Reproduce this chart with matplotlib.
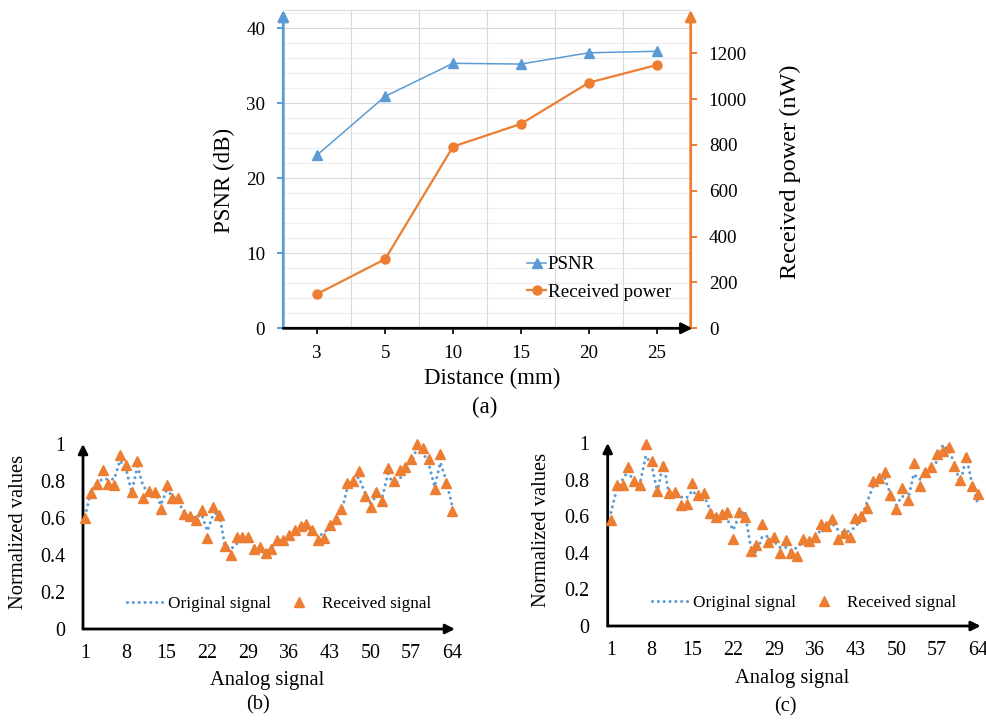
import matplotlib
matplotlib.use("Agg")
import matplotlib.pyplot as plt
from matplotlib.lines import Line2D

plt.rcParams['font.family'] = ['Liberation Serif', 'DejaVu Serif']

# ---- data ----
distances = ['3', '5', '10', '15', '20', '25']
psnr = [23.1, 30.9, 35.3, 35.2, 36.7, 36.9]
rx_power = [150, 302, 793, 892, 1072, 1149]

sample_idx = list(range(1, 65))
sample_ticks = [1, 8, 15, 22, 29, 36, 43, 50, 57, 64]
norm_ticks = [0, 0.2, 0.4, 0.6, 0.8, 1.0]
norm_tick_labels = ['0', '0.2', '0.4', '0.6', '0.8', '1']

b_original = [0.61, 0.74, 0.79, 0.81, 0.81, 0.81, 0.91, 0.87, 0.74, 0.88,
              0.77, 0.74, 0.74, 0.67, 0.75, 0.72, 0.69, 0.63, 0.61, 0.60,
              0.62, 0.53, 0.62, 0.63, 0.45, 0.43, 0.46, 0.49, 0.49, 0.45,
              0.425, 0.41, 0.44, 0.48, 0.48, 0.49, 0.533, 0.555, 0.57, 0.53,
              0.50, 0.52, 0.55, 0.59, 0.63, 0.76, 0.80, 0.82, 0.74, 0.68,
              0.72, 0.71, 0.84, 0.776, 0.81, 0.865, 0.90, 0.98, 0.955, 0.89,
              0.77, 0.90, 0.80, 0.668]
b_received = [0.60, 0.736, 0.785, 0.86, 0.785, 0.78, 0.94, 0.887, 0.738, 0.91,
              0.707, 0.747, 0.743, 0.65, 0.78, 0.71, 0.71, 0.623, 0.612, 0.59,
              0.645, 0.49, 0.66, 0.618, 0.447, 0.40, 0.497, 0.497, 0.497, 0.43,
              0.443, 0.41, 0.434, 0.48, 0.48, 0.506, 0.537, 0.555, 0.567, 0.533,
              0.483, 0.494, 0.56, 0.596, 0.646, 0.79, 0.80, 0.853, 0.72, 0.66,
              0.743, 0.69, 0.87, 0.80, 0.86, 0.874, 0.917, 1.0, 0.98, 0.917,
              0.758, 0.946, 0.788, 0.64]

c_original = [0.62, 0.746, 0.80, 0.85, 0.775, 0.78, 0.93, 0.88, 0.73, 0.90,
              0.71, 0.73, 0.705, 0.70, 0.74, 0.70, 0.71, 0.64, 0.59, 0.60,
              0.58, 0.525, 0.60, 0.63, 0.43, 0.40, 0.49, 0.49, 0.46, 0.43,
              0.43, 0.41, 0.43, 0.46, 0.47, 0.49, 0.52, 0.54, 0.56, 0.525,
              0.51, 0.52, 0.54, 0.59, 0.68, 0.76, 0.81, 0.81, 0.72, 0.66,
              0.71, 0.69, 0.83, 0.80, 0.83, 0.86, 0.90, 0.99, 0.96, 0.89,
              0.77, 0.93, 0.78, 0.67]
c_received = [0.58, 0.77, 0.77, 0.87, 0.79, 0.77, 0.996, 0.90, 0.737, 0.877,
              0.728, 0.734, 0.66, 0.668, 0.78, 0.716, 0.728, 0.62, 0.596, 0.61,
              0.625, 0.478, 0.625, 0.598, 0.408, 0.442, 0.556, 0.46, 0.487, 0.40,
              0.47, 0.397, 0.382, 0.473, 0.462, 0.487, 0.556, 0.547, 0.587, 0.475,
              0.51, 0.487, 0.59, 0.60, 0.647, 0.795, 0.81, 0.844, 0.714, 0.641,
              0.755, 0.687, 0.891, 0.766, 0.844, 0.868, 0.94, 0.958, 0.978, 0.873,
              0.797, 0.926, 0.763, 0.72]

BLUE = '#5B9BD5'
ORANGE = '#ED7D31'
W, H = 987, 721
DOTS = (0, (0.01, 1.9))


def fx(x):
    return x / W


def fy(y):
    return 1 - y / H


def arrow(ax, start, end, color, lw=1.6, ms=14):
    ax.annotate('', xy=end, xytext=start, xycoords='axes fraction',
                textcoords='axes fraction', annotation_clip=False,
                arrowprops=dict(arrowstyle='-|>', color=color, lw=lw,
                                mutation_scale=ms, shrinkA=0, shrinkB=0))


fig = plt.figure(figsize=(W / 100, H / 100), dpi=100)

# ---------------- (a) ----------------
left, right, bottom, top = 283.3, 690.7, 328.3, 10
ax = fig.add_axes([fx(left), fy(bottom), fx(right - left), (bottom - top) / H])
ax2 = ax.twinx()

x = list(range(len(distances)))
ax.set_xlim(-0.5, 5.5)
ax.set_ylim(0, 42.4)
ax2.set_ylim(0, 1389)

# grid
for v in range(2, 43, 2):
    ax.axhline(v, color='#d9d9d9' if v % 10 == 0 else '#eeeeee', lw=0.8, zorder=0)
for v in [0.5, 1.5, 2.5, 3.5, 4.5]:
    ax.axvline(v, color='#d9d9d9', lw=0.8, zorder=0)
ax.axhline(42.4, color='#d9d9d9', lw=0.8, zorder=0)

l1, = ax.plot(x, psnr, color=BLUE, lw=1.1, marker='^', ms=7, label='PSNR', zorder=4)
l2, = ax2.plot(x, rx_power, color=ORANGE, lw=1.6, marker='o', ms=6.5,
               label='Received power', zorder=4)

for s in ax.spines.values():
    s.set_visible(False)
for s in ax2.spines.values():
    s.set_visible(False)

ax.set_xticks(x)
ax.set_xticklabels(distances)
ax.set_yticks([0, 10, 20, 30, 40])
ax2.set_yticks([0, 200, 400, 600, 800, 1000, 1200])
ax.tick_params(axis='x', direction='out', length=4, width=1.2, color='black',
               labelsize=13.7, pad=8)
ax.tick_params(axis='y', direction='out', length=4, width=1.4, color=BLUE,
               labelsize=13.7, pad=9)
ax2.tick_params(axis='y', direction='out', length=4, width=1.4, color=ORANGE,
                labelsize=13.7, pad=9)

arrow(ax, (0, 0), (0, 1), BLUE, lw=2.0, ms=16)
arrow(ax2, (1, 0), (1, 1), ORANGE, lw=2.0, ms=16)
arrow(ax2, (0, 0), (1.004, 0), 'black', lw=2.0, ms=16)

ax2.legend([l1, l2], ['PSNR', 'Received power'], loc='upper left',
           bbox_to_anchor=(fx(527), fy(256)), bbox_transform=fig.transFigure,
           frameon=False, fontsize=13.7, handlelength=1.0, handletextpad=0.1,
           borderpad=0, borderaxespad=0, labelspacing=0.55)

fig.text(fx(224), fy(180), 'PSNR (dB)', rotation=90, ha='center', va='center', fontsize=16.5)
fig.text(fx(790), fy(172), 'Received power (nW)', rotation=90, ha='center', va='center',
         fontsize=17.5)
fig.text(fx(492), fy(378), 'Distance (mm)', ha='center', va='center', fontsize=16.5)
fig.text(fx(485), fy(407), '(a)', ha='center', va='center', fontsize=16.5)


# ---------------- (b), (c) ----------------
def signal_panel(l, r, b, t, xmin, original, received, ylab_xy, xlab_xy, tag_xy, tag,
                 leg_xy):
    axs = fig.add_axes([fx(l), fy(b), fx(r - l), (b - t) / H])
    axs.set_xlim(xmin, 64.5)
    axs.set_ylim(0, 1.0)
    axs.plot(sample_idx, original, color=BLUE, lw=2.2, linestyle=DOTS,
             dash_capstyle='round', zorder=3, clip_on=False)
    axs.plot(sample_idx, received, linestyle='none', marker='^', ms=6.5,
             color=ORANGE, zorder=4, clip_on=False)
    for s in axs.spines.values():
        s.set_visible(False)
    axs.set_xticks(sample_ticks)
    axs.set_yticks(norm_ticks)
    axs.set_yticklabels(norm_tick_labels)
    axs.tick_params(axis='x', length=0, labelsize=14.4, pad=11)
    axs.tick_params(axis='y', length=0, labelsize=14.4, pad=13)
    arrow(axs, (0, 0), (0, 1.0), 'black', lw=2.0, ms=14)
    arrow(axs, (0, 0), (1.0, 0), 'black', lw=2.0, ms=14)

    h1 = Line2D([], [], color=BLUE, lw=2.2, linestyle=DOTS, dash_capstyle='round')
    h2 = Line2D([], [], color=ORANGE, linestyle='none', marker='^', ms=6.5)
    axs.legend([h1, h2], ['Original signal', 'Received signal'], ncol=2,
               loc='center left', bbox_to_anchor=(fx(leg_xy[0]), fy(leg_xy[1])),
               bbox_transform=fig.transFigure, frameon=False, fontsize=12.3,
               handlelength=2.1, handletextpad=0.3, columnspacing=0.6,
               borderpad=0, borderaxespad=0, numpoints=1)

    fig.text(fx(ylab_xy[0]), fy(ylab_xy[1]), 'Normalized values', rotation=90,
             ha='center', va='center', fontsize=14.8)
    fig.text(fx(xlab_xy[0]), fy(xlab_xy[1]), 'Analog signal', ha='center',
             va='center', fontsize=14.8)
    fig.text(fx(tag_xy[0]), fy(tag_xy[1]), tag, ha='center', va='center',
             fontsize=14.8)
    return axs


signal_panel(83, 455, 629, 444, 0.65, b_original, b_received,
             (19, 532), (267, 680), (258, 705), '(b)', (127, 604))
signal_panel(607.7, 980.7, 626, 443, 0.45, c_original, c_received,
             (542, 530), (792, 679), (785, 707), '(c)', (652, 603))

plt.savefig('out.png', dpi=100)
plt.close()
